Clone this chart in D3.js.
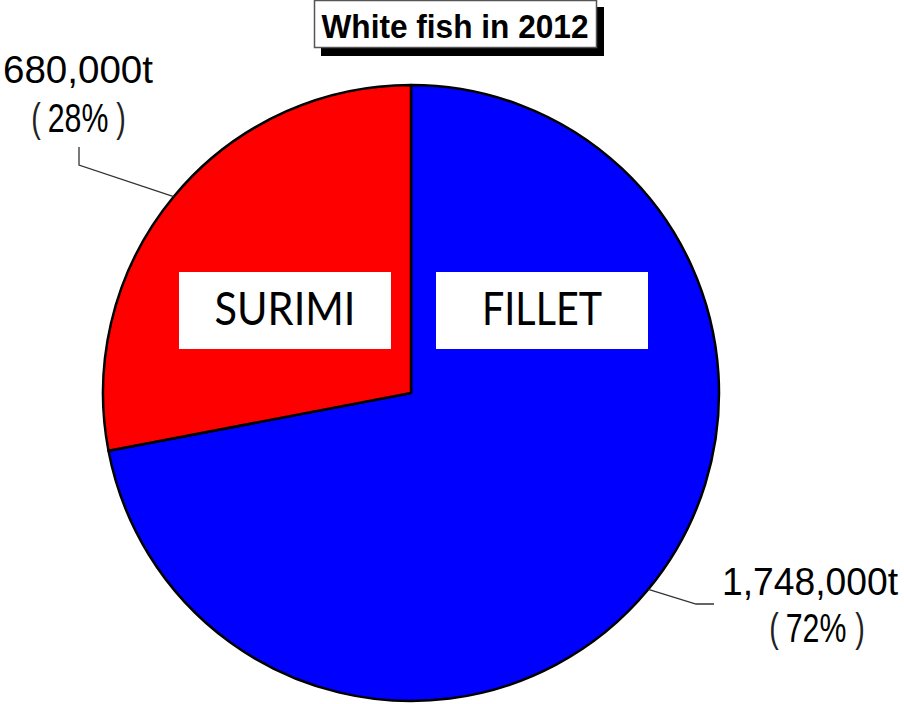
<!DOCTYPE html>
<html><head><meta charset="utf-8">
<script src="https://cdn.jsdelivr.net/npm/d3@7"></script>
<style>body{margin:0;background:#fff}svg{display:block}</style>
</head><body>
<svg id="c" width="904" height="704"></svg>
<script>
const title = "White fish in 2012";
const categories = ["FILLET", "SURIMI"];
const values = [1748000, 680000];
const valueLabels = ["1,748,000t", "680,000t"];
const pctLabels = ["72%", "28%"];
const colors = ["#0000ff", "#ff0000"];

const svg = d3.select("#c");
const cx = 411, cy = 393, R = 308;

// title box with shadow
svg.append("rect").attr("x", 321).attr("y", 7).attr("width", 283).attr("height", 49).attr("fill", "#000");
svg.append("rect").attr("x", 314.5).attr("y", 0.5).attr("width", 282).attr("height", 47)
  .attr("fill", "#fff").attr("stroke", "#555").attr("stroke-width", 1.5);
svg.append("text").attr("x", 455).attr("y", 38).attr("text-anchor", "middle")
  .attr("font-family", "Liberation Sans, Arial, sans-serif").attr("font-weight", "bold")
  .attr("font-size", 34).attr("textLength", 267).attr("lengthAdjust", "spacingAndGlyphs")
  .text(title);

const pie = d3.pie().sort(null).value(d => d)(values);
const arc = d3.arc().innerRadius(0).outerRadius(R);
const edge = d3.arc().innerRadius(R).outerRadius(R);

const g = svg.append("g").attr("transform", `translate(${cx},${cy})`);
g.selectAll("path").data(pie).join("path")
  .attr("d", arc).attr("fill", (d, i) => colors[i])
  .attr("stroke", "#000").attr("stroke-width", 2.5).attr("stroke-linejoin", "round");

// category label boxes
const boxes = [
  {x: 436, y: 272, w: 212, h: 77, tl: 120},
  {x: 179, y: 272, w: 212, h: 77, tl: 141}
];
categories.forEach((c, i) => {
  const b = boxes[i];
  svg.append("rect").attr("x", b.x).attr("y", b.y).attr("width", b.w).attr("height", b.h).attr("fill", "#fff");
  svg.append("text").attr("x", b.x + b.w / 2).attr("y", 325).attr("text-anchor", "middle")
    .attr("font-family", "Lato, Open Sans, sans-serif").attr("font-size", 47)
    .attr("textLength", b.tl).attr("lengthAdjust", "spacingAndGlyphs")
    .text(c);
});

// outer labels with leaders
const outer = [
  {elbow: [696, 604], end: [714, 604], vx: 810, vy: 595, vl: 176, lp: 774, px: 816, rp: 860, py: 642},
  {elbow: [79, 165], end: [79, 147], vx: 78, vy: 83, vl: 150, lp: 36, px: 78, rp: 121, py: 132}
];
const f = "Liberation Sans, Arial, sans-serif";
pie.forEach((d, i) => {
  const o = outer[i];
  const p = edge.centroid(d);
  const s = [cx + p[0], cy + p[1]];
  svg.append("polyline").attr("points", [s, o.elbow, o.end].map(q => q.join(",")).join(" "))
    .attr("fill", "none").attr("stroke", "#333").attr("stroke-width", 1.3);
  svg.append("text").attr("x", o.vx).attr("y", o.vy).attr("text-anchor", "middle")
    .attr("font-family", f).attr("font-size", 38)
    .attr("textLength", o.vl).attr("lengthAdjust", "spacingAndGlyphs")
    .text(valueLabels[i]);
  svg.append("text").attr("transform", `translate(${o.lp},${o.py}) scale(0.7,1)`).attr("text-anchor", "middle")
    .attr("font-family", f).attr("font-size", 41).attr("fill", "#222").text("(");
  svg.append("text").attr("transform", `translate(${o.px},${o.py}) scale(0.74,1)`).attr("text-anchor", "middle")
    .attr("font-family", f).attr("font-size", 41)
    .text(pctLabels[i]);
  svg.append("text").attr("transform", `translate(${o.rp},${o.py}) scale(0.7,1)`).attr("text-anchor", "middle")
    .attr("font-family", f).attr("font-size", 41).attr("fill", "#222").text(")");
});
</script>
</body></html>
